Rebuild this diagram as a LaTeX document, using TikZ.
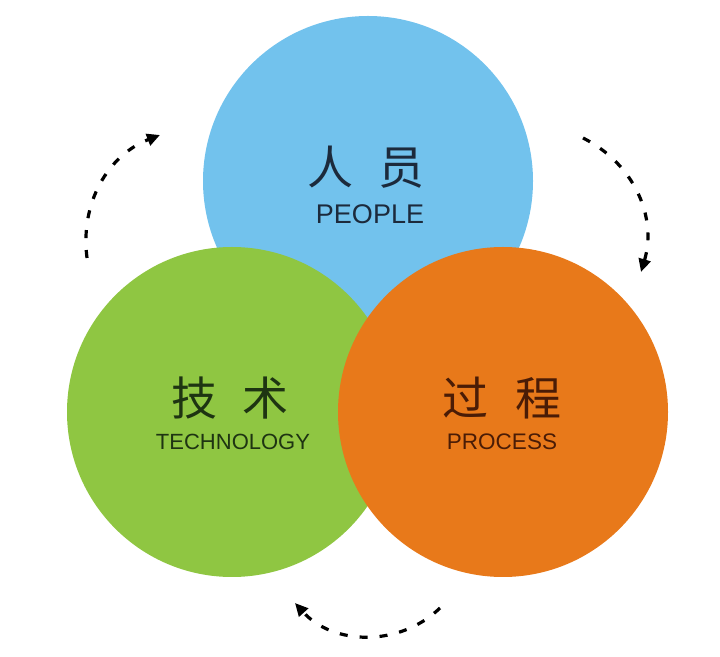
\documentclass[tikz,border=0pt]{standalone}
\usepackage{fontspec}
\setmainfont{Liberation Sans}
\newfontfamily\cjk{Noto Sans CJK SC}
\usepackage{xcolor}
\usepackage{tikz}
\usetikzlibrary{positioning, arrows.meta, calc}

\definecolor{peopleblue}{RGB}{114,194,237}
\definecolor{techgreen}{RGB}{143,198,66}
\definecolor{procorange}{RGB}{232,121,26}
\definecolor{peopleink}{RGB}{28,42,60}
\definecolor{techink}{RGB}{30,52,18}
\definecolor{procink}{RGB}{74,28,6}

\tikzset{
  ring/.style={circle, minimum size=330pt, inner sep=0pt, draw=none},
  cnlabel/.style={inner sep=0pt, font=\cjk\fontsize{46}{50}\selectfont},
  enlabel/.style={inner sep=0pt, font=\fontsize{#1}{#1}\selectfont},
  cycle/.style={line width=3.2pt, dash pattern=on 8pt off 12pt, -{Triangle[length=13pt, width=12pt]}}
}

\begin{document}
\begin{tikzpicture}[x=1pt, y=1pt]
  \useasboundingbox (0,0) rectangle (720,656);
  % the three circles, drawn bottom to top
  \foreach \nm/\px/\py/\col in {people/368/475/peopleblue, tech/232/244/techgreen, proc/503/244/procorange}{
    \node[ring, fill=\col] (\nm) at (\px,\py) {};
  }

  % labels
  \node[cnlabel, text=peopleink] (peoplecn) at (366,489) {人\hspace{25pt}员};
  \node[enlabel=27, text=peopleink] (peopleen) at (370,442) {PEOPLE};
  \node[cnlabel, text=techink] (techcn) at (230,258) {技\hspace{25pt}术};
  \node[enlabel=22, text=techink] (techen) at (233,214) {TECHNOLOGY};
  \node[cnlabel, text=procink] (proccn) at (502,258) {过\hspace{28pt}程};
  \node[enlabel=22.5, text=procink] (procen) at (502,214) {PROCESS};

  % dashed cycle arrows
  \coordinate (leftfrom) at (87,398);
  \coordinate (leftto) at (160,521);
  \coordinate (rightfrom) at (583,518);
  \coordinate (rightto) at (641,384);
  \coordinate (downfrom) at (440,48);
  \coordinate (downto) at (295,53);
  \draw[cycle] (leftfrom) to[bend left=38] (leftto);
  \draw[cycle] (rightfrom) to[bend left=40] (rightto);
  \draw[cycle] (downfrom) to[bend left=46] (downto);
\end{tikzpicture}
\end{document}
